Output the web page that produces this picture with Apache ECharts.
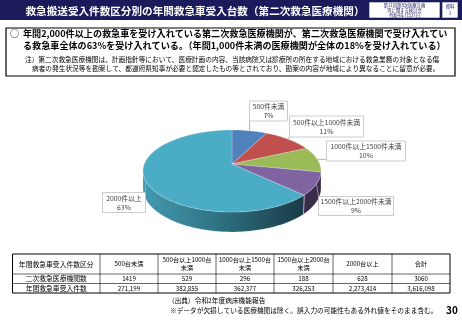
<!DOCTYPE html>
<html><head><meta charset="utf-8">
<script src="https://cdn.jsdelivr.net/npm/echarts@6/dist/echarts.min.js"></script>
<style>html,body{margin:0;padding:0;background:#fff}#c{width:462px;height:320px}</style>
</head><body><div id="c"></div>
<script>
// ---- data ----
const pieCategories = ['500件未満', '500件以上1000件未満', '1000件以上1500件未満', '1500件以上2000件未満', '2000件以上'];
const tableHeaders = ['500台未満', '500台以上1000台\n未満', '1000台以上1500台\n未満', '1500台以上2000台\n未満', '2000台以上', '合計'];
const rowLabels = ['年間救急車受入件数区分', '二次救急医療機関数', '年間救急車受入件数'];
const hospitalCounts = [1419, 529, 296, 188, 628, 3060];
const ambulanceCounts = [271199, 382855, 362377, 326253, 2273414, 3616098];
const pieValues = ambulanceCounts.slice(0, 5);

// ---- style / layout ----
const FONT = '"Noto Sans CJK JP"';
const NAVY = '#1b1b5c';
const topColors = ['#4f81bd', '#c0504d', '#9bbb59', '#8064a2', '#4bacc6'];
const sideColors = ['#2f4e73', '#7a302e', '#637a37', '#3a2d4c', null];
const P = { cx: 232, cy: 164, A: 87.7, B: 39.8, k: 0.171, D: 16.5 };
const labelBoxes = [
  { cx: 268.5, cy: 111, w: 38, h: 20 },
  { cx: 326.5, cy: 126.5, w: 74, h: 21 },
  { cx: 366, cy: 151, w: 79, h: 20 },
  { cx: 356, cy: 206, w: 75, h: 19 },
  { cx: 124, cy: 202.5, w: 43, h: 20 }
];
const colX = [12.5, 100, 158, 216, 274, 333, 392, 450];
const rowY = [254, 274, 283.5, 293];

function proj(deg, h) {
  const t = deg * Math.PI / 180;
  const X = Math.sin(t), Z = Math.cos(t);
  const w = 1 + P.k * Z;
  return [P.cx + P.A * X / w, P.cy - P.B * Z / w + h * P.D / w];
}
const total = pieValues.reduce((a, b) => a + b, 0);
const starts = [];
{ let acc = 0; pieValues.forEach(v => { starts.push(acc / total * 360); acc += v; }); }
const visA = 90 + Math.asin(P.k) * 180 / Math.PI, visB = 270 - Math.asin(P.k) * 180 / Math.PI;

function renderItem(params, api) {
  const i = params.dataIndex;
  const v = api.value(0);
  const a = starts[i], b = a + v / total * 360;
  const children = [];
  // side face
  const sa = Math.max(a, visA), sb = Math.min(b, visB);
  if (sb > sa) {
    const pts = [];
    for (let d = sa; d <= sb + 1e-6; d += Math.min(1, sb - sa)) pts.push(proj(Math.min(d, sb), 0));
    for (let d = sb; d >= sa - 1e-6; d -= Math.min(1, sb - sa)) pts.push(proj(Math.max(d, sa), 1));
    let fill = sideColors[i];
    if (!fill) {
      fill = new echarts.graphic.LinearGradient(143, 0, 304, 0, [
        { offset: 0, color: '#4499af' }, { offset: 0.45, color: '#2f7485' }, { offset: 1, color: '#1a3a46' }
      ], true);
    }
    children.push({ type: 'polygon', shape: { points: pts }, style: { fill: fill, stroke: 'rgba(255,255,255,0.25)', lineWidth: 0.5 } });
  }
  // top face
  const tp = [[P.cx, P.cy]];
  const n = Math.max(2, Math.ceil(b - a));
  for (let j = 0; j <= n; j++) tp.push(proj(a + (b - a) * j / n, 0));
  children.push({ type: 'polygon', shape: { points: tp }, style: { fill: topColors[i], stroke: 'rgba(255,255,255,0.45)', lineWidth: 0.5 } });
  // leader line + label box
  const m = (a + b) / 2;
  const an = proj(m, 0);
  const bx = labelBoxes[i];
  const x0 = bx.cx - bx.w / 2, x1 = bx.cx + bx.w / 2, y0 = bx.cy - bx.h / 2, y1 = bx.cy + bx.h / 2;
  const ex = Math.min(Math.max(an[0], x0), x1), ey = Math.min(Math.max(an[1], y0), y1);
  children.push({ type: 'line', shape: { x1: an[0], y1: an[1], x2: ex, y2: ey }, style: { stroke: '#a6a6a6', lineWidth: 0.8 } });
  children.push({ type: 'rect', shape: { x: x0, y: y0, width: bx.w, height: bx.h }, style: { fill: '#fff', stroke: '#bfbfbf', lineWidth: 0.8 } });
  const pct = Math.round(v / total * 100) + '%';
  children.push({ type: 'text', style: { text: pieCategories[i] + '\n' + pct, x: bx.cx, y: bx.cy, align: 'center', verticalAlign: 'middle', font: '6.8px ' + FONT, lineHeight: 9, fill: '#404040' } });
  return { type: 'group', children: children };
}

// ---- static slide graphics ----
const g = [];
g.push({ type: 'rect', shape: { x: 0, y: 0, width: 462, height: 20 }, style: { fill: NAVY } });
g.push({ type: 'text', style: { text: '救急搬送受入件数区分別の年間救急車受入台数（第二次救急医療機関）', x: 195, y: 10.5, align: 'center', verticalAlign: 'middle', font: 'bold 10.6px ' + FONT, fill: '#fff' } });
g.push({ type: 'rect', shape: { x: 369, y: 2, width: 71, height: 16 }, style: { fill: '#fff', stroke: NAVY, lineWidth: 0.6 } });
['第11回第8次医療計画', '等に関する検討会', '令和4年7月27日'].forEach((t, i) => {
  g.push({ type: 'text', style: { text: t, x: 404.5, y: 5 + i * 5, align: 'center', verticalAlign: 'middle', font: '4.3px ' + FONT, fill: NAVY } });
});
g.push({ type: 'rect', shape: { x: 442, y: 2, width: 16, height: 16 }, style: { fill: '#fff', stroke: NAVY, lineWidth: 0.6 } });
g.push({ type: 'text', style: { text: '資料\n1', x: 450, y: 10, align: 'center', verticalAlign: 'middle', font: '4.5px ' + FONT, lineHeight: 7, fill: NAVY } });

g.push({ type: 'rect', shape: { x: 6, y: 28, width: 449, height: 48 }, style: { fill: 'none', stroke: '#000', lineWidth: 1.2 } });
g.push({ type: 'text', style: { text: '○', x: 10, y: 33.5, verticalAlign: 'middle', font: '9px ' + FONT, fill: '#000' } });
g.push({ type: 'text', style: { text: '年間2,000件以上の救急車を受け入れている第二次救急医療機関が、第二次救急医療機関で受け入れてい', x: 23, y: 33.5, verticalAlign: 'middle', font: 'bold 9.1px ' + FONT, fill: '#000' } });
g.push({ type: 'text', style: { text: 'る救急車全体の63%を受け入れている。（年間1,000件未満の医療機関が全体の18%を受け入れている）', x: 23, y: 46, verticalAlign: 'middle', font: 'bold 9.1px ' + FONT, fill: '#000' } });
g.push({ type: 'text', style: { text: '注）第二次救急医療機関は、計画指針等において、医療計画の内容、当該病院又は診療所の所在する地域における救急業務の対象となる傷', x: 25, y: 59, verticalAlign: 'middle', font: '6.7px ' + FONT, fill: '#000' } });
g.push({ type: 'text', style: { text: '病者の発生状況等を勘案して、都道府県知事が必要と認定したもの等とされており、勘案の内容が地域により異なることに留意が必要。', x: 32, y: 68.5, verticalAlign: 'middle', font: '6.7px ' + FONT, fill: '#000' } });

// table
const fmt = n => n.toLocaleString('en-US');
rowY.forEach((y, r) => {
  const outer = r === 0 || r === rowY.length - 1;
  g.push({ type: 'line', shape: { x1: colX[0], y1: y, x2: colX[colX.length - 1], y2: y }, style: { stroke: '#000', lineWidth: outer ? 1 : 0.6 } });
});
colX.forEach((x, c) => {
  const outer = c === 0 || c === colX.length - 1;
  g.push({ type: 'line', shape: { x1: x, y1: rowY[0], x2: x, y2: rowY[rowY.length - 1] }, style: { stroke: '#000', lineWidth: outer ? 1 : 0.6 } });
});
const rows = [tableHeaders, hospitalCounts.map(String), ambulanceCounts.map(fmt)];
rows.forEach((cells, r) => {
  const yc = (rowY[r] + rowY[r + 1]) / 2;
  g.push({ type: 'text', style: { text: rowLabels[r], x: (colX[0] + colX[1]) / 2, y: yc, align: 'center', verticalAlign: 'middle', font: '6.8px ' + FONT, fill: '#000' } });
  cells.forEach((t, c) => {
    g.push({ type: 'text', style: { text: t, x: (colX[c + 1] + colX[c + 2]) / 2, y: yc, align: 'center', verticalAlign: 'middle', font: '6.2px ' + FONT, lineHeight: 8, fill: '#000' } });
  });
});
g.push({ type: 'text', style: { text: '（出典）令和2年度病床機能報告', x: 168, y: 300.5, verticalAlign: 'middle', font: '6.7px ' + FONT, fill: '#000' } });
g.push({ type: 'text', style: { text: '※データが欠損している医療機関は除く。誤入力の可能性もある外れ値をそのまま含む。', x: 170, y: 310, verticalAlign: 'middle', font: '6.7px ' + FONT, fill: '#000' } });
g.push({ type: 'text', style: { text: '30', x: 452, y: 310, align: 'center', verticalAlign: 'middle', font: 'bold 10px ' + FONT, fill: '#000' } });

const chart = echarts.init(document.getElementById('c'), null, { renderer: 'canvas' });
chart.setOption({
  animation: false,
  backgroundColor: '#fff',
  graphic: g,
  series: [{
    type: 'custom',
    coordinateSystem: 'none',
    silent: true,
    data: pieValues.map((v, i) => ({ name: pieCategories[i], value: [v] })),
    renderItem: renderItem
  }]
});
</script>
</body></html>
